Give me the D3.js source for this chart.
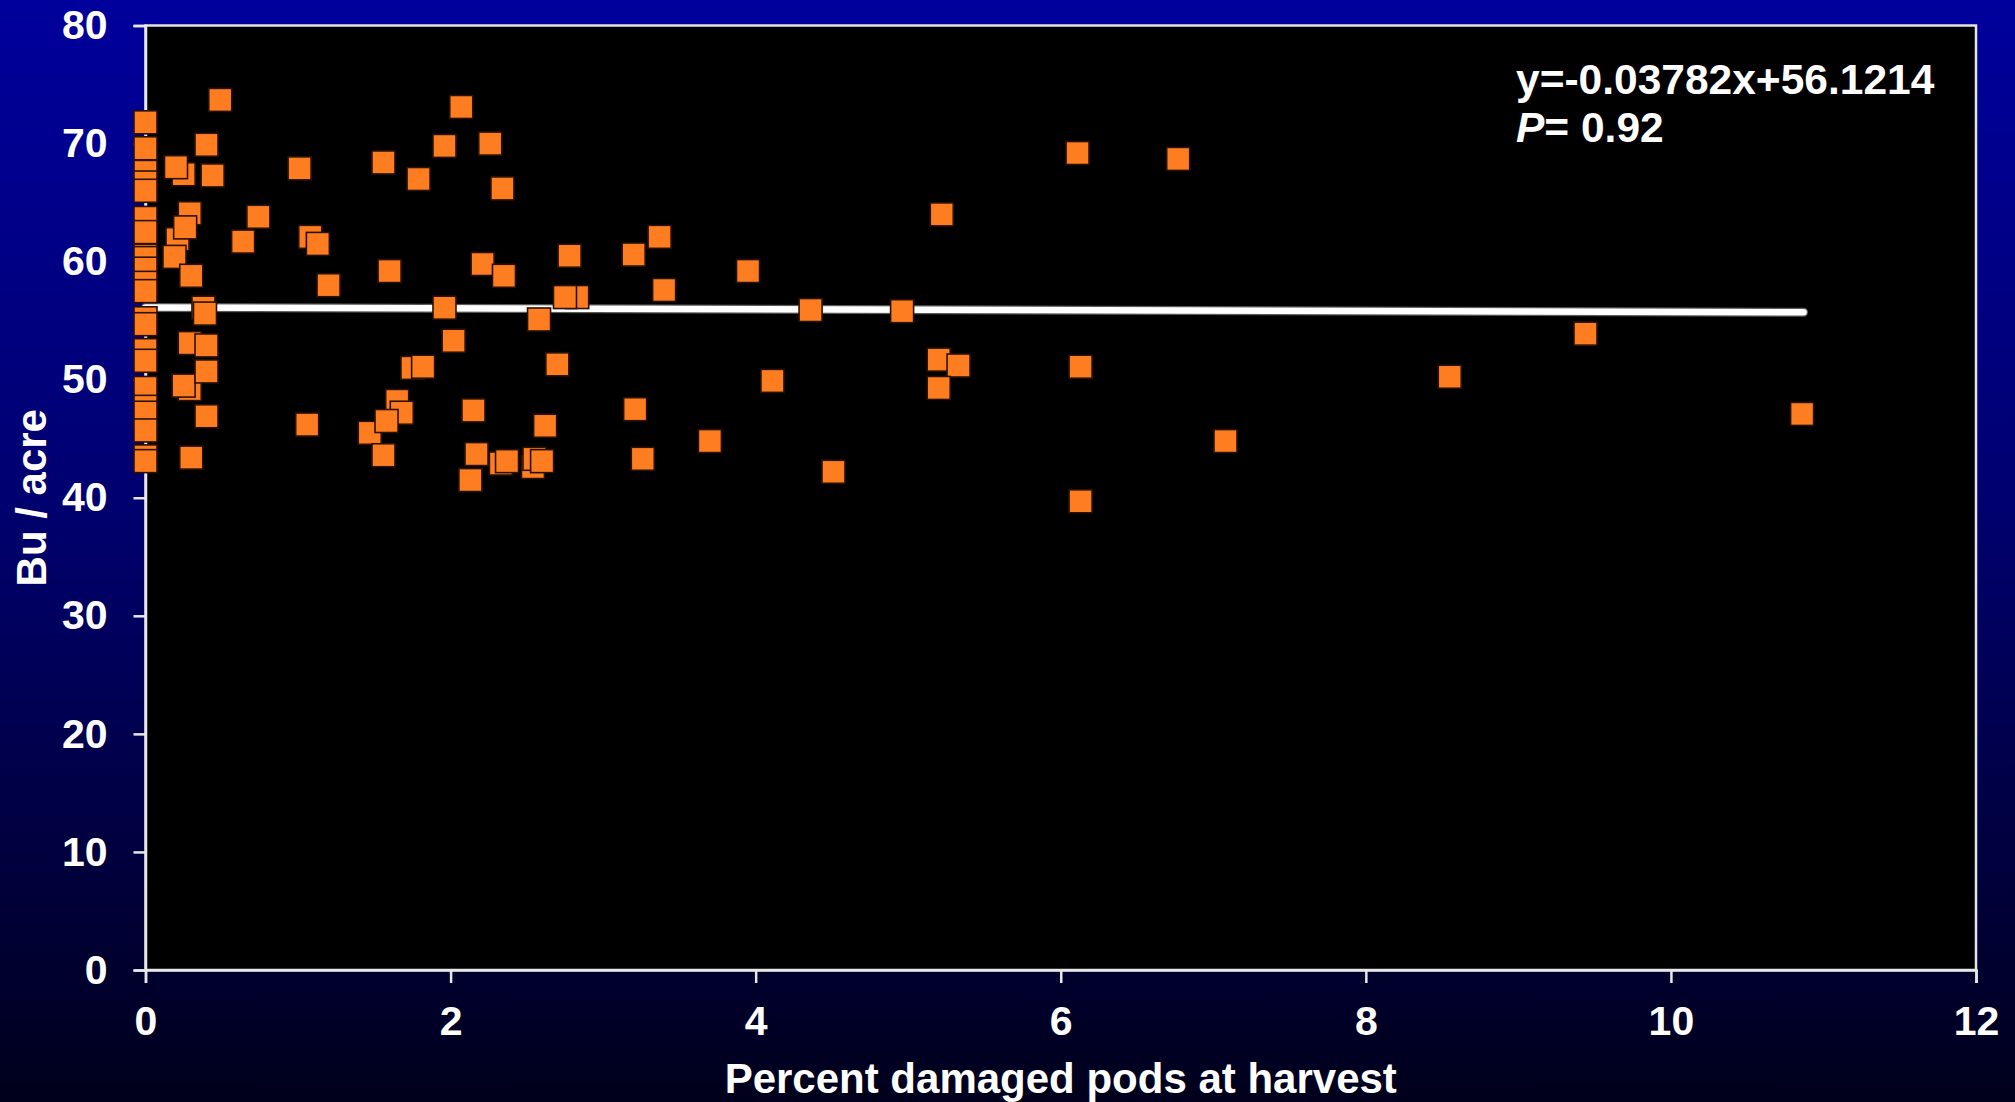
<!DOCTYPE html>
<html>
<head>
<meta charset="utf-8">
<script src="https://cdn.jsdelivr.net/npm/d3@7"></script>
<style>
  html, body { margin: 0; padding: 0; background: #000066; }
  svg { display: block; }
  text { font-family: "Liberation Sans", Arial, sans-serif; font-weight: bold; fill: #ffffff; }
</style>
</head>
<body>
<svg id="chart" width="2015" height="1102"></svg>
<script>
// ---- data ----
const damagedPct = [
  0,0,0,0,0,0,0,0,0,0,0,0,0,0,0,0,0,0,0,0,0,0,
  0.25,0.20,0.44,0.40,0.49,
  0.29,0.21,0.26,0.19,0.30,
  0.38,0.39,0.29,0.40,0.29,0.25,0.40,0.40,0.30,
  0.64,0.74,1.01,1.08,1.13,1.20,1.06,
  1.56,1.60,1.79,1.96,2.07,2.26,2.34,2.21,2.35,1.96,2.02,
  1.75,1.82,1.65,1.68,1.47,1.58,1.56,2.15,2.17,2.13,
  2.33,2.37,2.54,2.55,2.60,2.62,2.58,2.70,2.83,2.75,2.78,
  3.20,3.37,3.40,3.21,3.26,3.70,3.95,4.11,4.36,4.51,4.96,
  5.22,5.20,5.33,5.20,6.11,6.77,6.13,6.13,7.08,8.55,9.44,10.86
];
const yieldBu = [
  71.8,69.6,67.6,66.7,66.0,63.7,62.5,60.5,60.3,59.4,58.2,57.5,55.2,54.7,52.5,51.6,49.3,47.7,47.2,45.7,43.5,43.1,
  67.4,68.0,67.3,69.9,73.7,
  64.1,61.9,62.9,60.4,58.8,
  56.1,55.6,53.1,52.9,49.2,49.5,50.7,46.9,43.4,
  61.7,63.8,67.9,62.1,61.5,58.0,46.2,
  68.4,59.2,67.0,69.8,73.1,70.0,66.2,59.8,58.8,56.1,53.3,
  51.0,51.1,48.2,47.2,45.5,46.5,43.6,47.4,43.7,41.5,
  42.9,43.1,42.6,43.3,43.1,46.1,55.1,51.3,57.0,57.0,60.5,
  60.6,62.1,57.6,47.5,43.3,44.8,59.2,49.9,55.9,42.2,55.8,
  64.0,51.7,51.2,49.3,69.2,68.7,51.1,39.7,44.8,50.25,53.9,47.1
];
const xTicks = [0, 2, 4, 6, 8, 10, 12];
const yTicks = [0, 10, 20, 30, 40, 50, 60, 70, 80];
const slope = -0.03782;
const intercept = 56.1214;
const fitRange = [0, 10.87];
const equationText = "y=-0.03782x+56.1214";
const pLabel = "P";
const pValueText = "= 0.92";
const xTitle = "Percent damaged pods at harvest";
const yTitle = "Bu / acre";

// ---- layout ----
const W = 2015, H = 1102;
const svg = d3.select("#chart");
const x = d3.scaleLinear().domain([0, 12]).range([145.5, 1976]);
const y = d3.scaleLinear().domain([0, 80]).range([970, 25.5]);

const defs = svg.append("defs");
const grad = defs.append("linearGradient").attr("id", "bg").attr("x1", 0).attr("y1", 0).attr("x2", 0).attr("y2", 1);
grad.append("stop").attr("offset", "0%").attr("stop-color", "#00009c");
grad.append("stop").attr("offset", "45%").attr("stop-color", "#000070");
grad.append("stop").attr("offset", "100%").attr("stop-color", "#00001c");
svg.append("rect").attr("width", W).attr("height", H).attr("fill", "url(#bg)");

// plot area
svg.append("rect")
  .attr("x", x(0)).attr("y", y(80))
  .attr("width", x(12) - x(0)).attr("height", y(0) - y(80))
  .attr("fill", "#000000")
  .attr("stroke", "#e4e4e4").attr("stroke-width", 2.5);

// axes
const yAxis = d3.axisLeft(y).tickValues(yTicks).tickSize(12).tickPadding(26).tickFormat(d3.format("d"));
const xAxis = d3.axisBottom(x).tickValues(xTicks).tickSize(13).tickPadding(23).tickFormat(d3.format("d"));

const gy = svg.append("g").attr("transform", `translate(${x(0)},0)`).call(yAxis);
const gx = svg.append("g").attr("transform", `translate(0,${y(0)})`).call(xAxis);
[gx, gy].forEach(g => {
  g.select(".domain").attr("stroke", "#e8e8e8").attr("stroke-width", 2.5);
  g.selectAll(".tick line").attr("stroke", "#e8e8e8").attr("stroke-width", 2.5);
  g.selectAll(".tick text")
    .attr("fill", "#ffffff")
    .style("font-family", '"Liberation Sans", Arial, sans-serif')
    .style("font-weight", "bold")
    .style("font-size", "41px");
});

// regression line
const fitLine = d3.line().x(d => x(d)).y(d => y(intercept + slope * d));
svg.append("path").datum(fitRange).attr("d", fitLine)
  .attr("fill", "none").attr("stroke", "#5a5a5a").attr("stroke-width", 9).attr("stroke-linecap", "round");
svg.append("path").datum(fitRange).attr("d", fitLine)
  .attr("fill", "none").attr("stroke", "#ffffff").attr("stroke-width", 6.5).attr("stroke-linecap", "round");

// points
const pts = damagedPct.map((d, i) => ({ x: d, y: yieldBu[i] }));
const side = 23;
svg.append("g").selectAll("rect").data(pts).join("rect")
  .attr("x", d => x(d.x) - side / 2)
  .attr("y", d => y(d.y) - side / 2)
  .attr("width", side).attr("height", side)
  .attr("fill", "#ff7d21")
  .attr("stroke", "#2a1200").attr("stroke-width", 1.6);

// equation
const eq = svg.append("text").attr("x", 1516).attr("y", 94).style("font-size", "42.5px");
eq.text(equationText);
const pv = svg.append("text").attr("x", 1516).attr("y", 142).style("font-size", "42.5px");
pv.append("tspan").style("font-style", "italic").text(pLabel);
pv.append("tspan").text(pValueText);

// axis titles
svg.append("text")
  .attr("x", (x(0) + x(12)) / 2).attr("y", 1093)
  .attr("text-anchor", "middle")
  .style("font-size", "42px")
  .text(xTitle);
svg.append("text")
  .attr("transform", `translate(46,${(y(0) + y(80)) / 2}) rotate(-90)`)
  .attr("text-anchor", "middle")
  .style("font-size", "42px")
  .text(yTitle);
</script>
</body>
</html>
